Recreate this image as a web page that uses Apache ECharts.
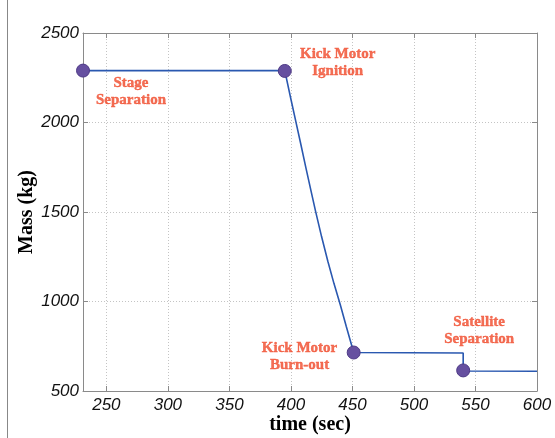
<!DOCTYPE html>
<html>
<head>
<meta charset="utf-8">
<script src="https://cdn.jsdelivr.net/npm/echarts@6/dist/echarts.min.js"></script>
<style>html,body{margin:0;padding:0;background:#fff}#c{width:555px;height:438px}</style>
</head>
<body>
<div id="c"></div>
<script>
// Mass profile (time in sec, mass in kg)
const timeValues = [231, 395, 400, 404, 408, 412, 416, 420, 425, 430, 435, 440, 445, 451, 540, 540, 600];
const massValues = [2290, 2290, 2130, 2005, 1880, 1752, 1628, 1505, 1360, 1225, 1100, 985, 860, 715, 712, 612, 610];
// Event markers
const eventTimes = [231, 395, 451, 540];
const eventMasses = [2290, 2288, 715, 615];
// Annotation labels (anchor in data coordinates)
const annoTimes = [270, 438, 407, 553];
const annoMasses = [2170, 2332, 690, 835];
const annoTexts = ['Stage\nSeparation', 'Kick Motor\nIgnition', 'Kick Motor\nBurn-out', 'Satellite\nSeparation'];
// Ticks
const xTicks = [250, 300, 350, 400, 450, 500, 550, 600];
const xMin = 231, xMax = 600;
const yMin = 500, yMax = 2500, yStep = 500;

const chart = echarts.init(document.getElementById('c'), null, {renderer: 'canvas'});
const lineData = timeValues.map((t, i) => [t, massValues[i]]);
const eventData = eventTimes.map((t, i) => [t, eventMasses[i]]);
const annoData = annoTimes.map((t, i) => ({value: [annoTimes[i], annoMasses[i]], name: annoTexts[i]}));

const axisCol = '#8a8a8a';
const gridLine = {show: true, lineStyle: {color: '#c4c4c4', type: [1, 2], width: 1}};
const tickFont = {fontFamily: '"Liberation Sans", Arial, sans-serif', fontStyle: 'italic', fontSize: 17, color: '#111'};

chart.setOption({
  animation: false,
  grid: {left: 83, right: 18, top: 33, bottom: 47, containLabel: false, outerBoundsMode: 'none'},
  xAxis: [{
    type: 'value', min: xMin, max: xMax, position: 'bottom',
    name: 'time (sec)', nameLocation: 'middle', nameGap: 24, nameMoveOverlap: false,
    nameTextStyle: {fontFamily: 'Liberation Serif', fontWeight: 'bold', fontSize: 20, color: '#000'},
    axisLine: {show: true, onZero: false, lineStyle: {color: axisCol, width: 1}},
    axisTick: {show: true, inside: true, length: 5, customValues: xTicks, lineStyle: {color: axisCol}},
    axisLabel: Object.assign({customValues: xTicks, margin: 6, formatter: v => String(v)}, tickFont),
    splitLine: gridLine
  }, {
    type: 'value', min: xMin, max: xMax, position: 'top',
    axisLine: {show: true, onZero: false, lineStyle: {color: axisCol, width: 1}},
    axisTick: {show: true, inside: true, length: 5, customValues: xTicks, lineStyle: {color: axisCol}},
    axisLabel: {show: false}, splitLine: {show: false}
  }],
  yAxis: [{
    type: 'value', min: yMin, max: yMax, interval: yStep, position: 'left',
    name: 'Mass (kg)', nameLocation: 'middle', nameGap: 46, nameRotate: 90, nameMoveOverlap: false,
    nameTextStyle: {fontFamily: 'Liberation Serif', fontWeight: 'bold', fontSize: 20, color: '#000'},
    axisLine: {show: true, onZero: false, lineStyle: {color: axisCol, width: 1}},
    axisTick: {show: true, inside: true, length: 5, lineStyle: {color: axisCol}},
    axisLabel: Object.assign({margin: 4, formatter: v => String(v)}, tickFont),
    splitLine: gridLine
  }, {
    type: 'value', min: yMin, max: yMax, interval: yStep, position: 'right',
    axisLine: {show: true, onZero: false, lineStyle: {color: axisCol, width: 1}},
    axisTick: {show: true, inside: true, length: 5, lineStyle: {color: axisCol}},
    axisLabel: {show: false}, splitLine: {show: false}
  }],
  graphic: [{
    type: 'line', shape: {x1: 7.5, y1: 0, x2: 7.5, y2: 438},
    style: {stroke: '#888', lineWidth: 1}
  }],
  series: [{
    type: 'line', data: lineData, showSymbol: false, symbol: 'none',
    lineStyle: {color: '#2a58b0', width: 1.6}, z: 3
  }, {
    type: 'scatter', data: eventData, symbol: 'circle', symbolSize: 13,
    itemStyle: {color: '#6650a0', borderColor: '#4e3a86', borderWidth: 1, opacity: 1}, z: 4
  }, {
    type: 'scatter', data: annoData, symbolSize: 0, silent: true, z: 5,
    label: {
      show: true, position: 'inside', formatter: p => p.name,
      fontFamily: 'Liberation Serif', fontWeight: 'bold', fontSize: 15,
      lineHeight: 17, color: '#f04a2a', align: 'center',
      textBorderColor: '#f04a2a', textBorderWidth: 0.4
    }
  }]
});
</script>
</body>
</html>
